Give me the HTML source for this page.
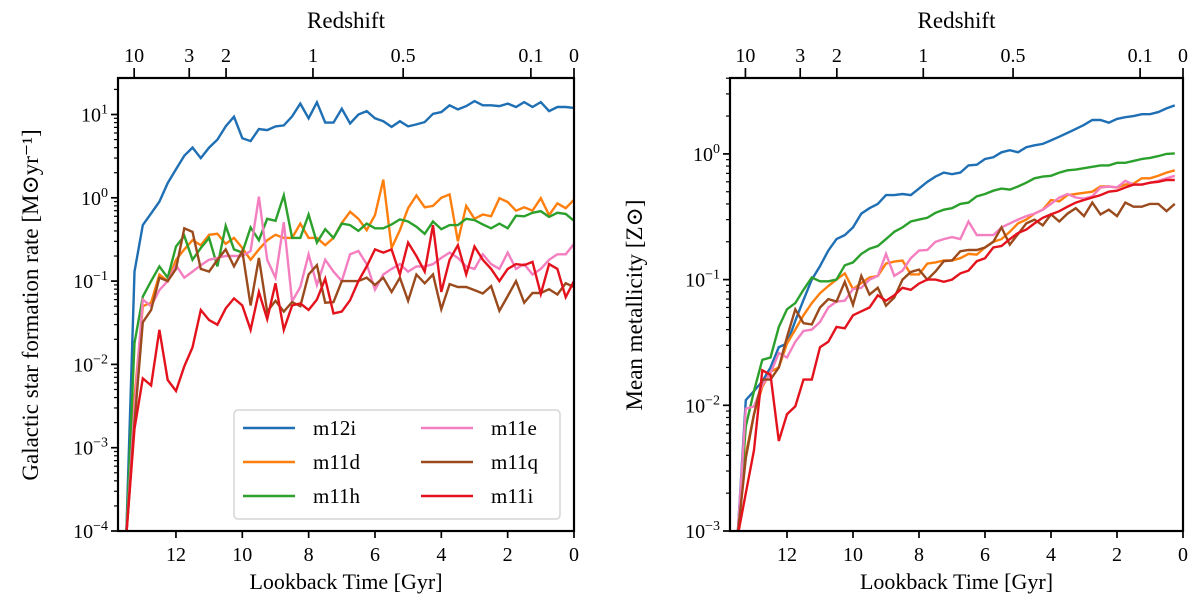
<!DOCTYPE html>
<html><head><meta charset="utf-8"><style>
html,body{margin:0;padding:0;background:#fff;width:1200px;height:614px;overflow:hidden}
svg{display:block;font-family:"Liberation Serif","DejaVu Serif",serif;overflow:hidden}
</style></head><body>
<svg id="fig" width="1200" height="614" viewBox="0 0 1200 614" xmlns="http://www.w3.org/2000/svg">
<defs>
<clipPath id="clipL"><rect x="118" y="78" width="456" height="453"/></clipPath>
<clipPath id="clipR"><rect x="730" y="78" width="453" height="453"/></clipPath>
</defs>
<g id="panelL"></g>
<g id="panelR"></g>
</svg>
<script>
const times = [13.5,13.25,13.0,12.75,12.5,12.25,12.0,11.75,11.5,11.25,11.0,10.75,10.5,10.25,10.0,9.75,9.5,9.25,9.0,8.75,8.5,8.25,8.0,7.75,7.5,7.25,7.0,6.75,6.5,6.25,6.0,5.75,5.5,5.25,5.0,4.75,4.5,4.25,4.0,3.75,3.5,3.25,3.0,2.75,2.5,2.25,2.0,1.75,1.5,1.25,1.0,0.75,0.5,0.25,0.0];
const seriesNames = ["m12i","m11d","m11h","m11e","m11q","m11i"];
const seriesColors = ["#1f6fb4","#ff7f0e","#2ca02c","#f47fc0","#9a4a1c","#e3121c"];
const redshiftLabels = ["10","3","2","1","0.5","0.1","0"];
const redshiftLookback = [13.26,11.6,10.49,7.87,5.15,1.3,0];
const xTickValues = [12,10,8,6,4,2,0];

const sfr_m12i = [0.00001,0.13,0.47,0.65,0.9,1.5,2.2,3.2,4.0,3.0,4.0,5,7.2,9.4,5.2,4.8,6.7,6.5,7.2,7.4,9.5,13.5,9,14,8,8,11.7,7.8,10,11,9,8.3,7.1,8.3,7.2,7.6,8.1,10.2,10.7,12.9,11.5,12.6,14.5,12.9,12.9,12.6,13.5,12.3,14.1,12.3,14.1,11,12.3,12.3,12.0];
const sfr_m11d = [0.00001,0.004,0.05,0.055,0.12,0.1,0.18,0.24,0.31,0.27,0.36,0.37,0.28,0.33,0.25,0.18,0.24,0.31,0.36,0.33,0.33,0.49,0.33,0.33,0.27,0.33,0.5,0.68,0.56,0.41,0.62,1.65,0.25,0.41,0.75,1.07,0.77,0.8,1.0,1.1,0.3,0.8,0.56,0.63,0.6,0.99,0.89,0.7,0.77,0.7,0.99,0.62,0.86,0.75,0.95];
const sfr_m11h = [0.00001,0.018,0.065,0.1,0.15,0.11,0.26,0.35,0.18,0.25,0.33,0.15,0.46,0.24,0.22,0.44,0.31,0.56,0.53,1.07,0.33,0.33,0.63,0.29,0.42,0.33,0.49,0.47,0.4,0.49,0.43,0.43,0.48,0.55,0.52,0.45,0.37,0.52,0.42,0.47,0.47,0.56,0.54,0.48,0.43,0.49,0.43,0.61,0.6,0.66,0.69,0.59,0.66,0.64,0.53];
const sfr_m11e = [0.00001,0.003,0.06,0.05,0.078,0.1,0.155,0.11,0.13,0.155,0.18,0.19,0.2,0.2,0.2,0.23,1.03,0.18,0.11,0.51,0.057,0.085,0.21,0.09,0.18,0.13,0.1,0.21,0.23,0.16,0.079,0.12,0.14,0.16,0.13,0.15,0.15,0.16,0.19,0.22,0.19,0.15,0.14,0.21,0.16,0.14,0.22,0.14,0.16,0.12,0.14,0.18,0.21,0.21,0.28];
const sfr_m11q = [0.00001,0.002,0.032,0.045,0.11,0.1,0.14,0.43,0.39,0.14,0.13,0.18,0.24,0.15,0.23,0.051,0.19,0.043,0.058,0.043,0.056,0.05,0.12,0.155,0.055,0.056,0.1,0.1,0.1,0.11,0.09,0.11,0.074,0.11,0.058,0.12,0.094,0.12,0.046,0.092,0.085,0.085,0.078,0.071,0.087,0.044,0.066,0.1,0.055,0.072,0.072,0.08,0.069,0.094,0.085];
const sfr_m11i = [0.0000001,0.0017,0.0068,0.0056,0.026,0.0065,0.0048,0.0095,0.016,0.045,0.034,0.03,0.047,0.062,0.051,0.026,0.074,0.035,0.094,0.026,0.051,0.054,0.045,0.06,0.107,0.041,0.043,0.059,0.10,0.15,0.24,0.22,0.24,0.12,0.29,0.2,0.13,0.47,0.074,0.18,0.27,0.12,0.26,0.18,0.14,0.1,0.14,0.16,0.155,0.17,0.07,0.16,0.14,0.064,0.1];

const z_m12i = [0.0002,0.011,0.013,0.0155,0.02,0.029,0.031,0.047,0.069,0.1,0.128,0.17,0.21,0.226,0.26,0.335,0.37,0.4,0.47,0.47,0.48,0.47,0.53,0.6,0.66,0.71,0.69,0.71,0.81,0.82,0.91,0.94,1.03,1.07,1.03,1.13,1.17,1.2,1.28,1.37,1.47,1.58,1.7,1.86,1.86,1.77,1.9,1.96,2.0,2.07,2.07,2.15,2.3,2.43,null];
const z_m11d = [0.0003,0.0041,0.0085,0.014,0.0185,0.02,0.031,0.04,0.052,0.065,0.078,0.089,0.1,0.112,0.084,0.094,0.104,0.107,0.134,0.139,0.142,0.11,0.11,0.134,0.137,0.142,0.142,0.148,0.16,0.158,0.18,0.2,0.21,0.24,0.28,0.3,0.335,0.36,0.43,0.42,0.47,0.48,0.49,0.5,0.55,0.55,0.54,0.57,0.58,0.64,0.64,0.67,0.71,0.74,null];
const z_m11h = [0.0002,0.0068,0.013,0.023,0.024,0.042,0.058,0.065,0.083,0.104,0.097,0.097,0.1,0.13,0.137,0.16,0.176,0.185,0.21,0.24,0.26,0.29,0.3,0.31,0.34,0.36,0.37,0.4,0.41,0.46,0.48,0.51,0.53,0.52,0.55,0.59,0.64,0.66,0.67,0.71,0.74,0.75,0.77,0.79,0.81,0.81,0.85,0.85,0.88,0.91,0.93,0.96,1.0,1.01,null];
const z_m11e = [0.0003,0.0094,0.0098,0.0145,0.018,0.026,0.024,0.032,0.039,0.04,0.046,0.06,0.067,0.068,0.084,0.086,0.1,0.107,0.16,0.107,0.118,0.148,0.17,0.172,0.2,0.21,0.218,0.21,0.29,0.226,0.226,0.226,0.26,0.28,0.3,0.32,0.335,0.36,0.4,0.45,0.48,0.45,0.44,0.46,0.54,0.55,0.54,0.61,0.57,0.57,0.59,0.61,0.64,0.67,null];
const z_m11q = [0.0002,0.0038,0.0085,0.016,0.016,0.02,0.035,0.058,0.045,0.044,0.06,0.07,0.067,0.096,0.063,0.107,0.076,0.086,0.062,0.072,0.1,0.115,0.12,0.1,0.116,0.14,0.142,0.168,0.172,0.172,0.18,0.2,0.26,0.19,0.23,0.28,0.3,0.27,0.33,0.29,0.335,0.37,0.32,0.41,0.33,0.36,0.32,0.41,0.38,0.38,0.4,0.4,0.35,0.4,null];
const z_m11i = [0.0001,0.002,0.0044,0.019,0.0175,0.0052,0.0085,0.0098,0.016,0.016,0.029,0.032,0.042,0.041,0.052,0.056,0.06,0.075,0.068,0.075,0.086,0.083,0.093,0.1,0.1,0.096,0.1,0.112,0.118,0.14,0.148,0.18,0.185,0.21,0.235,0.25,0.28,0.31,0.33,0.35,0.38,0.41,0.43,0.45,0.47,0.5,0.51,0.54,0.57,0.57,0.59,0.6,0.62,0.62,null];

const NS="http://www.w3.org/2000/svg";
function mk(tag, attrs, parent){const e=document.createElementNS(NS,tag);for(const k in attrs)e.setAttribute(k,attrs[k]);parent.appendChild(e);return e;}
function powLabel(g,x,y,exp,anchor){
  const t=mk('text',{x:x,y:y,'font-size':20,'text-anchor':anchor,fill:'#000'},g);
  t.appendChild(document.createTextNode('10'));
  const s=mk('tspan',{'font-size':14,dy:-8},t);
  s.textContent=exp;
  return t;
}

function drawPanel(g, cfg){
  const L=cfg.left,R=cfg.right,T=78,B=531;
  const xs=t=>cfg.x0 - cfg.kx*t;
  const ys=v=>B-(Math.log10(v)-cfg.ymin)*cfg.dec;
  const sg=mk('g',{'clip-path':'url(#'+cfg.clip+')'},g);
  
  
  cfg.series.forEach((arr,k)=>{
    let d='';let started=false;
    arr.forEach((v,i)=>{ if(v==null) return; const px=xs(times[i]); const py=Math.min(ys(v),B+6); d+=(started?'L':'M')+px.toFixed(1)+' '+py.toFixed(1); started=true;});
    const p=mk('path',{d:d,fill:'none',stroke:seriesColors[k],'stroke-width':2.4,'stroke-linejoin':'miter'},sg);
    
    
  });
  const fr=mk('rect',{x:L,y:T,width:R-L,height:B-T,fill:'none',stroke:'#000','stroke-width':2.2},g);
  
  
  xTickValues.forEach(v=>{
    const x=xs(v);
    mk('line',{x1:x,x2:x,y1:B,y2:B+7,stroke:'#000','stroke-width':1.7},g);
    const t=mk('text',{x:x,y:B+30,'font-size':20,'text-anchor':'middle'},g);
    t.textContent=v;
    
    
  });
  const xl=mk('text',{x:(L+R)/2,y:589,'font-size':22,'text-anchor':'middle'},g);
  xl.textContent='Lookback Time [Gyr]';
  
  
  redshiftLabels.forEach((lab,i)=>{
    const x=xs(redshiftLookback[i]);
    mk('line',{x1:x,x2:x,y1:T,y2:T-10,stroke:'#000','stroke-width':1.7},g);
    const t=mk('text',{x:x,y:T-16,'font-size':20,'text-anchor':'middle'},g);
    t.textContent=lab;
    
    
  });
  const tl=mk('text',{x:(L+R)/2,y:28,'font-size':23,'text-anchor':'middle'},g);
  tl.textContent='Redshift';
  
  
  for(let e=cfg.ymin;e<=cfg.ymaxInt;e++){
    const y=ys(Math.pow(10,e));
    mk('line',{x1:L,x2:L-7,y1:y,y2:y,stroke:'#000','stroke-width':1.7},g);
    const lab=powLabel(g,L-10,y+7,(e<0?'\u2212'+(-e):''+e),'end');
    
    
    for(let m=2;m<=9;m++){
      const yy=ys(m*Math.pow(10,e));
      if(yy<T) continue;
      mk('line',{x1:L,x2:L-4,y1:yy,y2:yy,stroke:'#000','stroke-width':1.2},g);
    }
  }
  const yl=mk('text',{x:0,y:0,'font-size':23,'text-anchor':'middle',transform:'translate('+cfg.ylx+',305) rotate(-90)'},g);
  yl.textContent=cfg.ylabel;
  
  
}

drawPanel(document.getElementById('panelL'),{left:118,right:574,x0:574,kx:33.17,ymin:-4,ymaxInt:1,dec:83.3,clip:'clipL',prefix:'sfr',ylx:38,
  ylabel:'Galactic star formation rate [M\u2299yr\u207B\u00B9]',
  series:[sfr_m12i,sfr_m11d,sfr_m11h,sfr_m11e,sfr_m11q,sfr_m11i]});
drawPanel(document.getElementById('panelR'),{left:730,right:1183,x0:1183,kx:33.0,ymin:-3,ymaxInt:0,dec:125.7,clip:'clipR',prefix:'metal',ylx:642,
  ylabel:'Mean metallicity [Z\u2299]',
  series:[z_m12i,z_m11d,z_m11h,z_m11e,z_m11q,z_m11i]});

const gl=document.getElementById('panelL');
const lg=mk('g',{},gl);


mk('rect',{x:234,y:410,width:326,height:109,rx:4,fill:'#fff','fill-opacity':0.85,stroke:'#d5d5d5','stroke-width':1.5},lg);
seriesNames.forEach((n,k)=>{
  const col=Math.floor(k/3), row=k%3;
  const x=243+col*178, y=428+row*34;
  const e=mk('g',{},lg);
  
  
  mk('line',{x1:x,x2:x+52,y1:y,y2:y,stroke:seriesColors[k],'stroke-width':2.4},e);
  const t=mk('text',{x:x+70,y:y+7,'font-size':21},e);
  t.textContent=n;
});
</script>
</body></html>
